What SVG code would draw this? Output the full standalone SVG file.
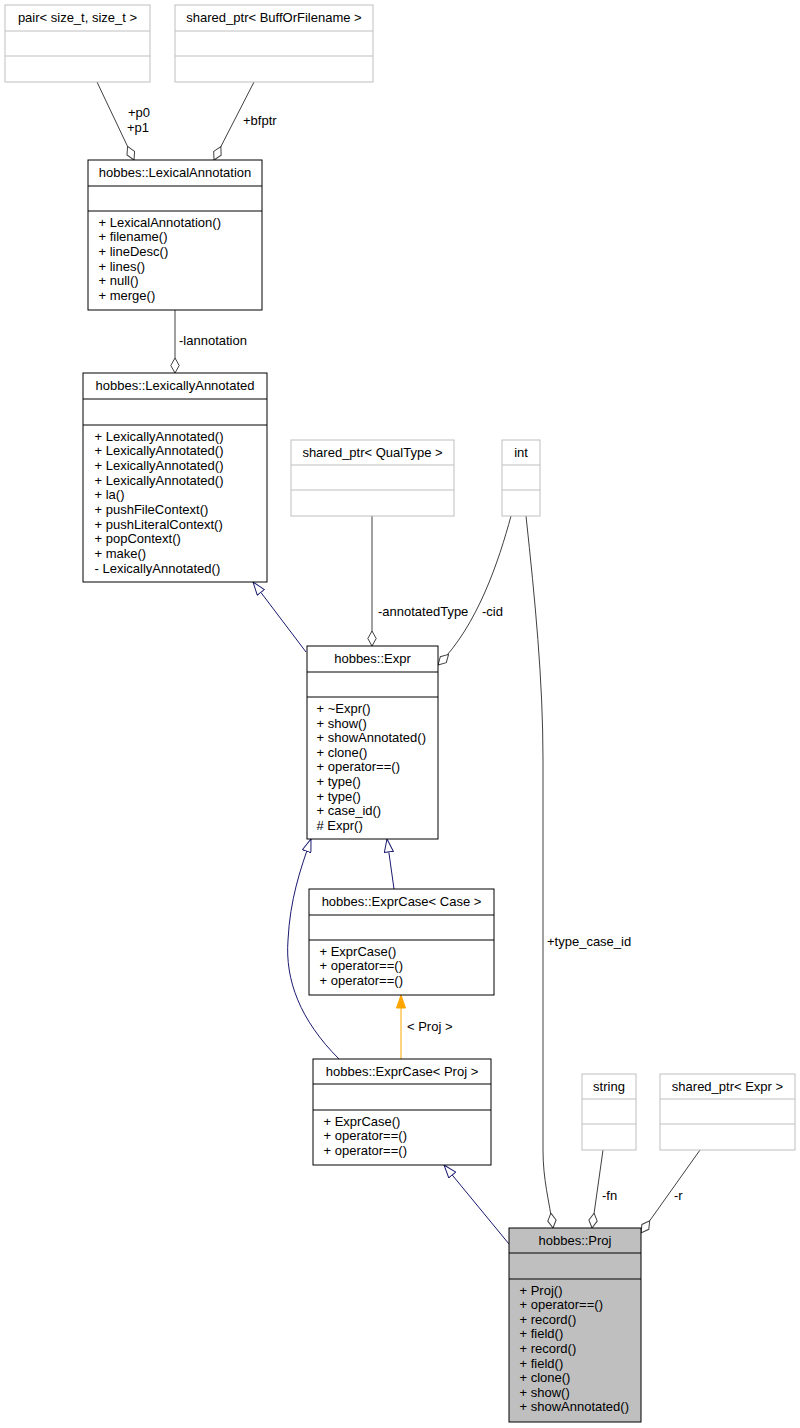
<svg xmlns="http://www.w3.org/2000/svg" width="800" height="1428" viewBox="0 0 800 1428">
<style>
text{font-family:"Liberation Sans",Arial,sans-serif;font-size:13px;fill:#000}
.t{text-anchor:middle}
.cls rect{fill:#fff;stroke:#000;stroke-width:1}
.cls line{stroke:#000;stroke-width:1}
.ext rect{fill:#fff;stroke:#bfbfbf;stroke-width:1}
.ext line{stroke:#bfbfbf;stroke-width:1}
.cur rect{fill:#bfbfbf;stroke:#000;stroke-width:1}
.cur line{stroke:#000;stroke-width:1}
.agg{fill:none;stroke:#404040;stroke-width:1;marker-end:url(#dia)}
.inh{fill:none;stroke:#191970;stroke-width:1;marker-end:url(#tri)}
.tpl{fill:none;stroke:#ffa500;stroke-width:1;marker-end:url(#otri)}
</style>
<defs>
<marker id="dia" markerUnits="userSpaceOnUse" viewBox="0 0 16 10" refX="15.5" refY="5" markerWidth="16" markerHeight="10" orient="auto">
<path d="M0.5,5 L8,0.8 L15.5,5 L8,9.2 Z" fill="#fff" stroke="#404040" stroke-width="1"/>
</marker>
<marker id="tri" markerUnits="userSpaceOnUse" viewBox="0 0 14 10" refX="13.5" refY="5" markerWidth="14" markerHeight="10" orient="auto">
<path d="M0.5,0.5 L13.5,5 L0.5,9.5 Z" fill="#fff" stroke="#191970" stroke-width="1"/>
</marker>
<marker id="otri" markerUnits="userSpaceOnUse" viewBox="0 0 14 10" refX="13.5" refY="5" markerWidth="14" markerHeight="10" orient="auto">
<path d="M0.5,0.5 L13.5,5 L0.5,9.5 Z" fill="#ffa500" stroke="#ffa500" stroke-width="1"/>
</marker>
</defs>
<rect width="800" height="1428" fill="#fff"/>

<g id="edges">
<path class="agg" d="M97,82 L134,160"/>
<text x="128" y="117">+p0</text>
<text x="127" y="132">+p1</text>
<path class="agg" d="M254,82 L214,160"/>
<text x="243" y="125">+bfptr</text>
<path class="agg" d="M175,310 L175,373"/>
<text x="179" y="345">-lannotation</text>
<path class="inh" d="M306,652 L253,582"/>
<path class="agg" d="M372,516 L372,646"/>
<text x="378" y="616">-annotatedType</text>
<path class="agg" d="M511,516 C499,560 478,625 438,665"/>
<text x="482" y="616">-cid</text>
<path class="agg" d="M526,516 C535,600 543,680 543,760 L543,1150 C543,1180 549,1200 553,1228"/>
<text x="547" y="946">+type_case_id</text>
<path class="inh" d="M394,889 L387,839"/>
<path class="inh" d="M339,1059 C300,1020 285,980 288,940 C290,900 300,870 311,839"/>
<path class="tpl" d="M401,1059 L401,995"/>
<text x="407" y="1031">&lt; Proj &gt;</text>
<path class="inh" d="M509,1244 L444,1165"/>
<path class="agg" d="M603,1150 L592,1228"/>
<text x="602" y="1200">-fn</text>
<path class="agg" d="M700,1150 L641,1233"/>
<text x="674" y="1200">-r</text>
</g>

<g id="pair" class="ext">
<rect x="5" y="5" width="145" height="77"/>
<line x1="5" y1="31" x2="150" y2="31"/>
<line x1="5" y1="56" x2="150" y2="56"/>
<text class="t" x="77.5" y="22">pair&lt; size_t, size_t &gt;</text>
</g>

<g id="bfptr_type" class="ext">
<rect x="175" y="5" width="198" height="77"/>
<line x1="175" y1="31" x2="373" y2="31"/>
<line x1="175" y1="56" x2="373" y2="56"/>
<text class="t" x="274" y="22">shared_ptr&lt; BuffOrFilename &gt;</text>
</g>

<g id="LexicalAnnotation" class="cls">
<rect x="88" y="160" width="174" height="150"/>
<line x1="88" y1="186" x2="262" y2="186"/>
<line x1="88" y1="211" x2="262" y2="211"/>
<text class="t" x="175" y="177">hobbes::LexicalAnnotation</text>
<text x="98.5" y="226.5">+ LexicalAnnotation()</text>
<text x="98.5" y="241.2">+ filename()</text>
<text x="98.5" y="255.9">+ lineDesc()</text>
<text x="98.5" y="270.6">+ lines()</text>
<text x="98.5" y="285.3">+ null()</text>
<text x="98.5" y="300">+ merge()</text>
</g>

<g id="LexicallyAnnotated" class="cls">
<rect x="83" y="373" width="184" height="209"/>
<line x1="83" y1="399" x2="267" y2="399"/>
<line x1="83" y1="425" x2="267" y2="425"/>
<text class="t" x="175" y="390">hobbes::LexicallyAnnotated</text>
<text x="94.5" y="440.5">+ LexicallyAnnotated()</text>
<text x="94.5" y="455.2">+ LexicallyAnnotated()</text>
<text x="94.5" y="469.9">+ LexicallyAnnotated()</text>
<text x="94.5" y="484.6">+ LexicallyAnnotated()</text>
<text x="94.5" y="499.3">+ la()</text>
<text x="94.5" y="514">+ pushFileContext()</text>
<text x="94.5" y="528.7">+ pushLiteralContext()</text>
<text x="94.5" y="543.4">+ popContext()</text>
<text x="94.5" y="558.1">+ make()</text>
<text x="94.5" y="572.8">- LexicallyAnnotated()</text>
</g>

<g id="qualtype" class="ext">
<rect x="291" y="440" width="163" height="76"/>
<line x1="291" y1="465" x2="454" y2="465"/>
<line x1="291" y1="490" x2="454" y2="490"/>
<text class="t" x="372.5" y="457">shared_ptr&lt; QualType &gt;</text>
</g>

<g id="int" class="ext">
<rect x="502" y="440" width="38" height="76"/>
<line x1="502" y1="465" x2="540" y2="465"/>
<line x1="502" y1="490" x2="540" y2="490"/>
<text class="t" x="521" y="457">int</text>
</g>

<g id="Expr" class="cls">
<rect x="307" y="646" width="131" height="193"/>
<line x1="307" y1="672" x2="438" y2="672"/>
<line x1="307" y1="697" x2="438" y2="697"/>
<text class="t" x="372.5" y="663">hobbes::Expr</text>
<text x="316.5" y="713">+ ~Expr()</text>
<text x="316.5" y="727.6">+ show()</text>
<text x="316.5" y="742.2">+ showAnnotated()</text>
<text x="316.5" y="756.8">+ clone()</text>
<text x="316.5" y="771.4">+ operator==()</text>
<text x="316.5" y="786">+ type()</text>
<text x="316.5" y="800.6">+ type()</text>
<text x="316.5" y="815.2">+ case_id()</text>
<text x="316.5" y="829.8"># Expr()</text>
</g>

<g id="ExprCaseCase" class="cls">
<rect x="309" y="889" width="185" height="106"/>
<line x1="309" y1="915" x2="494" y2="915"/>
<line x1="309" y1="940" x2="494" y2="940"/>
<text class="t" x="401.5" y="906">hobbes::ExprCase&lt; Case &gt;</text>
<text x="319.5" y="955.5">+ ExprCase()</text>
<text x="319.5" y="970.2">+ operator==()</text>
<text x="319.5" y="984.9">+ operator==()</text>
</g>

<g id="ExprCaseProj" class="cls">
<rect x="313" y="1059" width="178" height="106"/>
<line x1="313" y1="1084" x2="491" y2="1084"/>
<line x1="313" y1="1110" x2="491" y2="1110"/>
<text class="t" x="402" y="1076">hobbes::ExprCase&lt; Proj &gt;</text>
<text x="323.5" y="1125.5">+ ExprCase()</text>
<text x="323.5" y="1140.2">+ operator==()</text>
<text x="323.5" y="1154.9">+ operator==()</text>
</g>

<g id="string" class="ext">
<rect x="582" y="1074" width="54" height="76"/>
<line x1="582" y1="1099" x2="636" y2="1099"/>
<line x1="582" y1="1124" x2="636" y2="1124"/>
<text class="t" x="609" y="1091">string</text>
</g>

<g id="exprptr" class="ext">
<rect x="660" y="1074" width="135" height="76"/>
<line x1="660" y1="1099" x2="795" y2="1099"/>
<line x1="660" y1="1124" x2="795" y2="1124"/>
<text class="t" x="727.5" y="1091">shared_ptr&lt; Expr &gt;</text>
</g>

<g id="Proj" class="cur">
<rect x="509" y="1228" width="132" height="194"/>
<line x1="509" y1="1253" x2="641" y2="1253"/>
<line x1="509" y1="1279" x2="641" y2="1279"/>
<text class="t" x="575" y="1245">hobbes::Proj</text>
<text x="519.5" y="1294.5">+ Proj()</text>
<text x="519.5" y="1309.1">+ operator==()</text>
<text x="519.5" y="1323.7">+ record()</text>
<text x="519.5" y="1338.3">+ field()</text>
<text x="519.5" y="1352.9">+ record()</text>
<text x="519.5" y="1367.5">+ field()</text>
<text x="519.5" y="1382.1">+ clone()</text>
<text x="519.5" y="1396.7">+ show()</text>
<text x="519.5" y="1411.3">+ showAnnotated()</text>
</g>
</svg>
